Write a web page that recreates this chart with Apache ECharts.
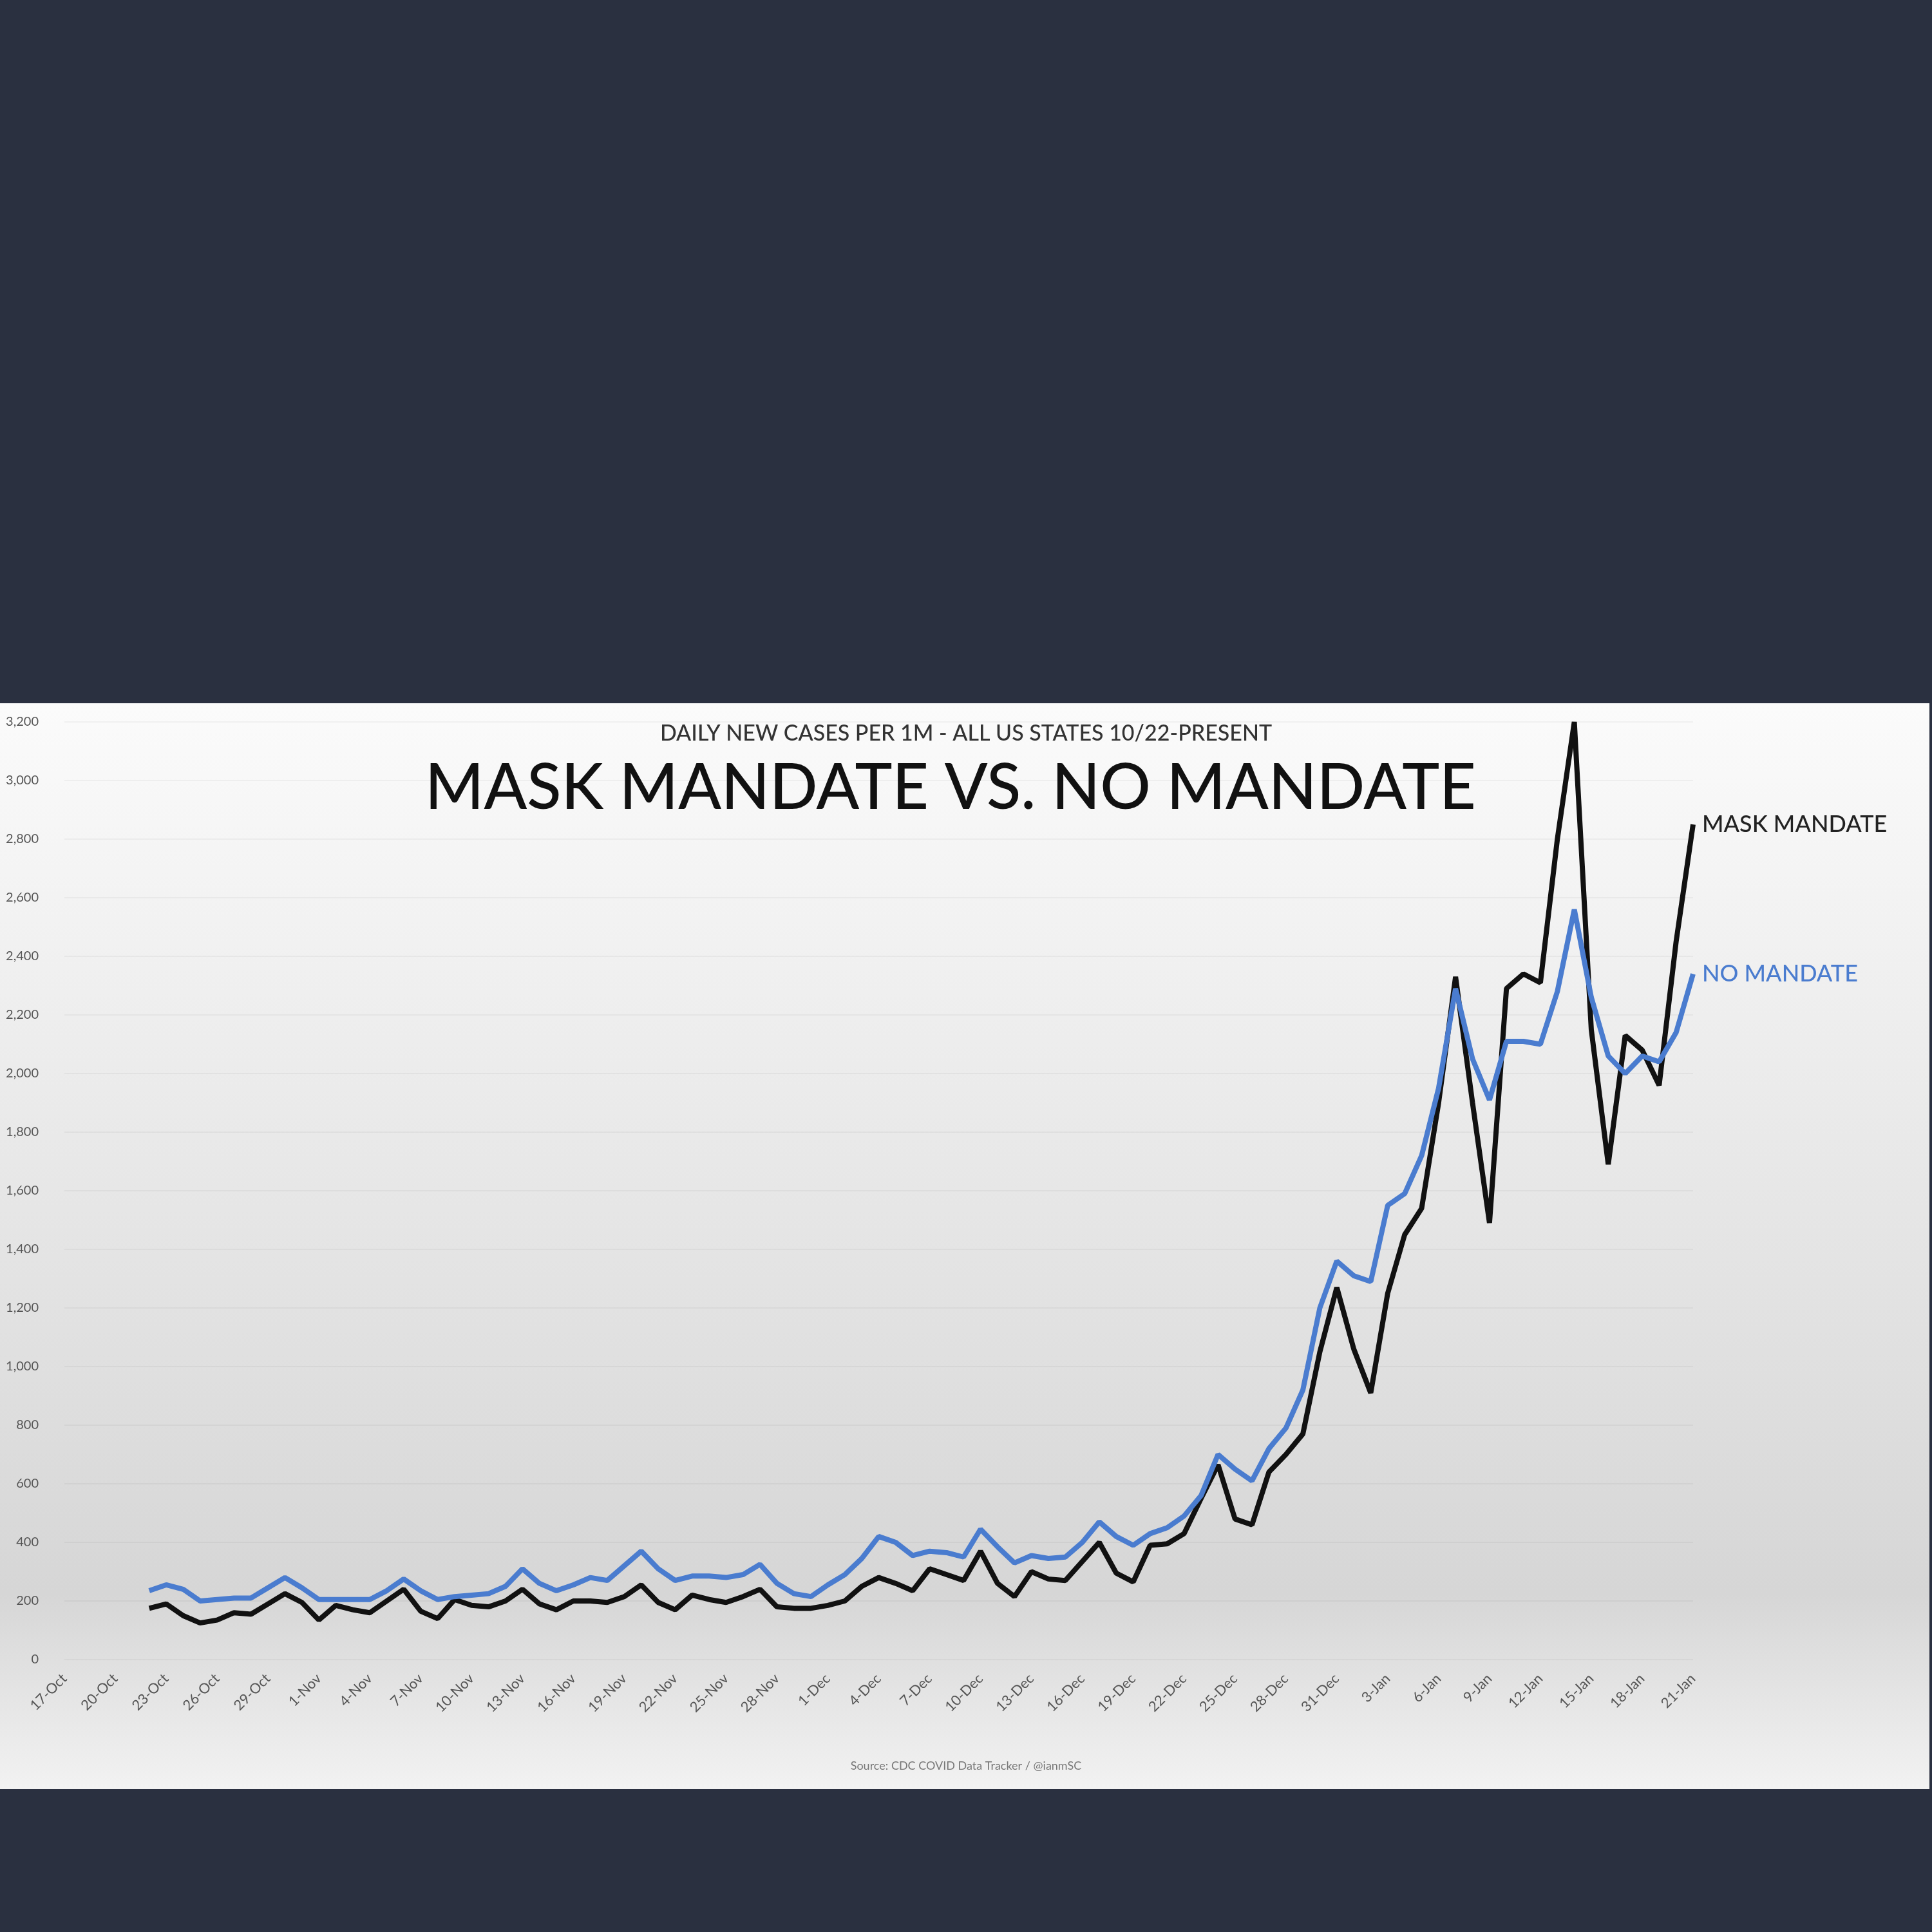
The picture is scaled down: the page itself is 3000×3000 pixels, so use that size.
<!DOCTYPE html>
<html>
<head>
<meta charset="utf-8">
<script src="https://cdn.jsdelivr.net/npm/echarts@6/dist/echarts.min.js"></script>
<style>
  html, body { margin: 0; padding: 0; background: #2a3040; }
  #chart { width: 3000px; height: 3000px; }
</style>
</head>
<body>
<div id="chart"></div>
<script>
/* data */
var months = [['Oct', 17, 31], ['Nov', 1, 30], ['Dec', 1, 31], ['Jan', 1, 21]];
var dates = [];
months.forEach(function (m) {
    for (var d = m[1]; d <= m[2]; d++) dates.push(d + '-' + m[0]);
});
var lead = [null, null, null, null, null]; // 17-Oct .. 21-Oct, no data

var maskMandate = [
    175, 190, 150, 125, 135, 160, 155, 190, 225, 195,
    135, 185, 170, 160, 200, 240, 165, 140, 205, 185,
    180, 200, 240, 190, 170, 200, 200, 195, 215, 255,
    195, 170, 220, 205, 195, 215, 240, 180, 175, 175,
    185, 200, 250, 280, 260, 235, 310, 290, 270, 370,
    260, 215, 300, 275, 270, 335, 400, 295, 265, 390,
    395, 430, 550, 665, 480, 460, 640, 700, 770, 1050, 1270,
    1060, 910, 1250, 1450, 1540, 1900, 2330, 1900, 1490, 2290,
    2340, 2310, 2800, 3200, 2150, 1690, 2130, 2080, 1960, 2450, 2850
];
var noMandate = [
    235, 255, 240, 200, 205, 210, 210, 245, 280, 245,
    205, 205, 205, 205, 235, 275, 235, 205, 215, 220,
    225, 250, 310, 260, 235, 255, 280, 270, 320, 370,
    310, 270, 285, 285, 280, 290, 325, 260, 225, 215,
    255, 290, 345, 420, 400, 355, 370, 365, 350, 445,
    385, 330, 355, 345, 350, 400, 470, 420, 390, 430,
    450, 490, 560, 700, 650, 610, 720, 790, 920, 1200, 1360,
    1310, 1290, 1550, 1590, 1720, 1950, 2290, 2050, 1910, 2110,
    2110, 2100, 2280, 2560, 2260, 2060, 2000, 2060, 2040, 2140, 2340
];

var font = 'Lato';
var chart = echarts.init(document.getElementById('chart'));
chart.setOption({
    backgroundColor: '#2a3040',
    animation: false,
    graphic: [{
        type: 'rect',
        z: -10,
        shape: { x: 0, y: 1092, width: 2996, height: 1686 },
        style: {
            fill: new echarts.graphic.LinearGradient(0, 0, 0, 1, [
                { offset: 0, color: '#fbfbfb' },
                { offset: 0.82, color: '#d6d6d6' },
                { offset: 1, color: '#f2f2f2' }
            ])
        }
    }, {
        type: 'text', left: 'center', top: 1122,
        style: { text: 'DAILY NEW CASES PER 1M - ALL US STATES 10/22-PRESENT', font: '500 34px ' + font, fill: '#333' }
    }, {
        type: 'text', x: 660, top: 1175,
        style: { text: 'MASK MANDATE VS. NO MANDATE', font: '500 98px ' + font, fill: '#111' }
    }, {
        type: 'text', left: 'center', top: 2733,
        style: { text: 'Source: CDC COVID Data Tracker / @ianmSC', font: '18px ' + font, fill: '#777' }
    }],
    grid: { left: 100, right: 371, top: 1121, bottom: 423 },
    xAxis: {
        type: 'category',
        data: dates,
        boundaryGap: false,
        axisLine: { show: false },
        axisTick: { show: false },
        axisLabel: { interval: 2, rotate: 45, fontSize: 22, color: '#555', fontFamily: font, margin: 26 }
    },
    yAxis: {
        type: 'value',
        min: 0, max: 3200, interval: 200,
        axisLine: { show: false },
        axisTick: { show: false },
        axisLabel: { fontSize: 20, color: '#555', fontFamily: font, margin: 40 },
        splitLine: { show: true, lineStyle: { color: 'rgba(0,0,0,0.04)', width: 2 } }
    },
    series: [{
        name: 'MASK MANDATE',
        type: 'line',
        data: lead.concat(maskMandate),
        showSymbol: false,
        lineStyle: { color: '#111', width: 8 },
        itemStyle: { color: '#111' },
        endLabel: { show: true, formatter: '{a}', color: '#222', fontSize: 36, fontFamily: font, fontWeight: 500, distance: 14 }
    }, {
        name: 'NO MANDATE',
        type: 'line',
        data: lead.concat(noMandate),
        showSymbol: false,
        lineStyle: { color: '#4a7ccf', width: 8 },
        itemStyle: { color: '#4a7ccf' },
        endLabel: { show: true, formatter: '{a}', color: '#4a7ccf', fontSize: 36, fontFamily: font, fontWeight: 500, distance: 14 }
    }]
});
</script>
</body>
</html>
